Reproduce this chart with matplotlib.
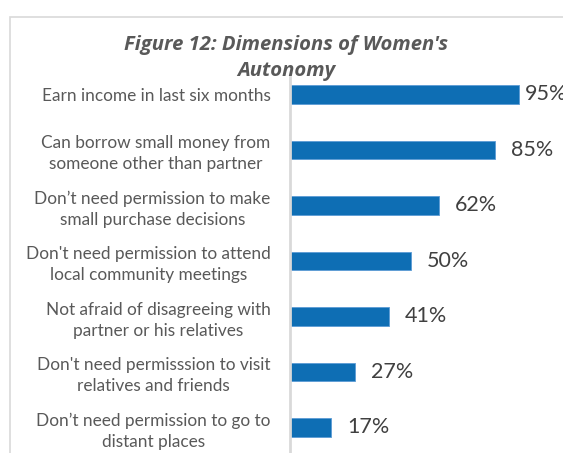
import numpy as np
import matplotlib.pyplot as plt
from matplotlib.patches import Rectangle

categories = [
    "Earn income in last six months",
    "Can borrow small money from\nsomeone other than partner",
    "Don\u2019t need permission to make\nsmall purchase decisions",
    "Don't need permission to attend\nlocal community meetings",
    "Not afraid of disagreeing with\npartner or his relatives",
    "Don't need permisssion to visit\nrelatives and friends",
    "Don\u2019t need permission to go to\ndistant places",
]
values = [95, 85, 62, 50, 41, 27, 17]
title = "Figure 12: Dimensions of Women's\nAutonomy"

bar_color = '#0E6EB4'
W, H = 563, 453

fig = plt.figure(figsize=(W / 100, H / 100), dpi=100)
fig.patch.set_facecolor('white')

# frame of the chart area (runs off the right and bottom edges)
fig.patches.append(Rectangle((10 / W, -0.1), 1.2, (H - 17) / H + 0.1,
                             transform=fig.transFigure, fill=False,
                             edgecolor='#D9D9D9', linewidth=1.2))

ax = fig.add_axes([290 / W, 0.0, 241 / W, (H - 77) / H])
y = np.arange(len(values))
ax.barh(y, values, height=0.34, color=bar_color, edgecolor='#5B9BD5', linewidth=0.6)
ax.set_xlim(0, 100)
ax.set_ylim(6.46, -0.315)

for s in ['top', 'right', 'bottom']:
    ax.spines[s].set_visible(False)
ax.spines['left'].set_color('#D9D9D9')
ax.spines['left'].set_linewidth(2)
ax.set_xticks([])
ax.set_yticks(y)
ax.set_yticklabels(categories, fontsize=12.4, color='#595959', family='Lato',
                   linespacing=1.35)
ax.tick_params(axis='y', length=0, pad=14)
for t in ax.get_yticklabels():
    t.set_multialignment('center')
ax.set_facecolor('none')

for i, v in enumerate(values):
    ax.text(min(v + 6.6, 97.5), i, f"{v}%", va='center', ha='left',
            fontsize=15.5, color='#404040', family='Lato', clip_on=False)

fig.text(286 / W, 1 - 76 / H, title, ha='center', va='baseline', fontsize=14.6,
         fontweight='bold', fontstyle='italic', family='Open Sans',
         color='#595959', linespacing=1.37)

fig.savefig('out.png', dpi=100)
